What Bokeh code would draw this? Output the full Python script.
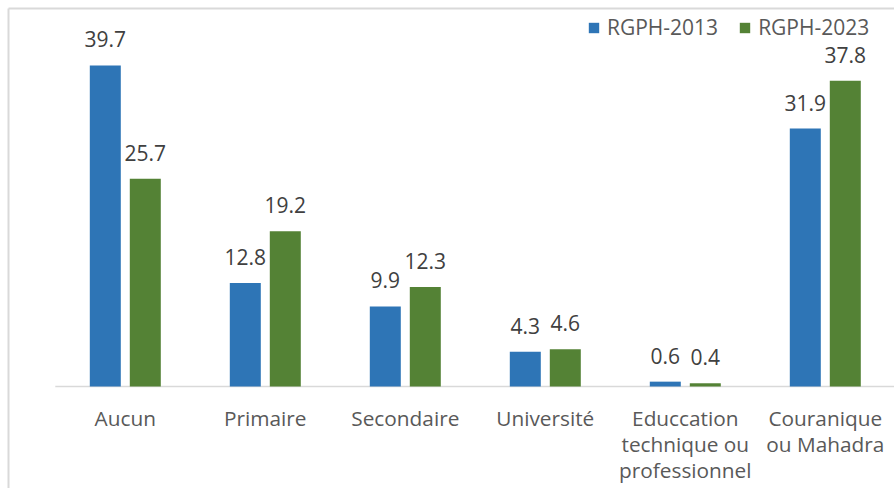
import numpy as np
from bokeh.plotting import figure
from bokeh.models import ColumnDataSource, Range1d, Legend, LegendItem
from bokeh.transform import dodge
from bokeh.core.properties import value
from bokeh.embed import file_html
from bokeh.resources import INLINE

categories = ["Aucun", "Primaire", "Secondaire", "Université",
              "Educcation\ntechnique ou\nprofessionnel", "Couranique\nou Mahadra"]
series_names = ["RGPH-2013", "RGPH-2023"]
rgph_2013 = [39.7, 12.8, 9.9, 4.3, 0.6, 31.9]
rgph_2023 = [25.7, 19.2, 12.3, 4.6, 0.4, 37.8]

BLUE = "#2E75B6"
GREEN = "#548235"
FONT = value("Open Sans")

pos = np.arange(len(categories))
src = ColumnDataSource(dict(
    x=pos, cat=categories, a=rgph_2013, b=rgph_2023,
    la=[f"{v:.1f}" for v in rgph_2013], lb=[f"{v:.1f}" for v in rgph_2023],
    zero=[0] * len(categories),
))

W, H = 894, 488
PX = 140.0          # pixels per category
PY = 8.086          # pixels per unit
x0 = -124.8 / PX
x1 = x0 + W / PX
y_hi = 386 / PY
y_lo = -(H - 386) / PY

p = figure(width=W, height=H, x_range=Range1d(x0, x1), y_range=Range1d(y_lo, y_hi),
           output_backend="svg", toolbar_location=None, min_border=0,
           x_axis_type=None, y_axis_type=None)
p.outline_line_color = None
p.grid.visible = False
p.background_fill_color = "white"
p.border_fill_color = "white"

# chart-area border (left and top)
bx = x0 + 8 / PX
by = y_hi - 8 / PY
p.segment(x0=[bx, bx], y0=[by, by], x1=[bx, x1], y1=[y_lo, by],
          line_color="#d9d9d9", line_width=2)

# axis baseline
p.segment(x0=pos[0] - 0.5, x1=pos[-1] + 0.5, y0=0, y1=0, line_color="#d9d9d9", line_width=1.5)

off = 20 / PX
bw = 31 / PX
r1 = p.vbar(x=dodge("x", -off), top="a", width=bw, source=src, fill_color=BLUE, line_color=None)
r2 = p.vbar(x=dodge("x", off), top="b", width=bw, source=src, fill_color=GREEN, line_color=None)

for col, lab, d in (("a", "la", -off), ("b", "lb", off)):
    p.text(x=dodge("x", d), y=col, text=lab, source=src, text_align="center",
           text_baseline="alphabetic", y_offset=-26, text_font=FONT,
           text_font_size="21px", text_color="#404040")

p.text(x="x", y="zero", text="cat", source=src, text_align="center", text_baseline="top",
       y_offset=17, text_line_height=0.93, text_font=FONT, text_font_size="20.8px",
       text_color="#595959")

legend = Legend(items=[LegendItem(label=series_names[0], renderers=[r1]),
                       LegendItem(label=series_names[1], renderers=[r2])],
                orientation="horizontal", location=(587, 447), glyph_width=13, glyph_height=13,
                label_standoff=7, spacing=20, padding=0, margin=0, border_line_color=None,
                background_fill_alpha=0, label_text_font="Open Sans", label_text_font_size="21px",
                label_text_color="#595959")
p.add_layout(legend)

open("out.html", "w").write(file_html(p, INLINE))
